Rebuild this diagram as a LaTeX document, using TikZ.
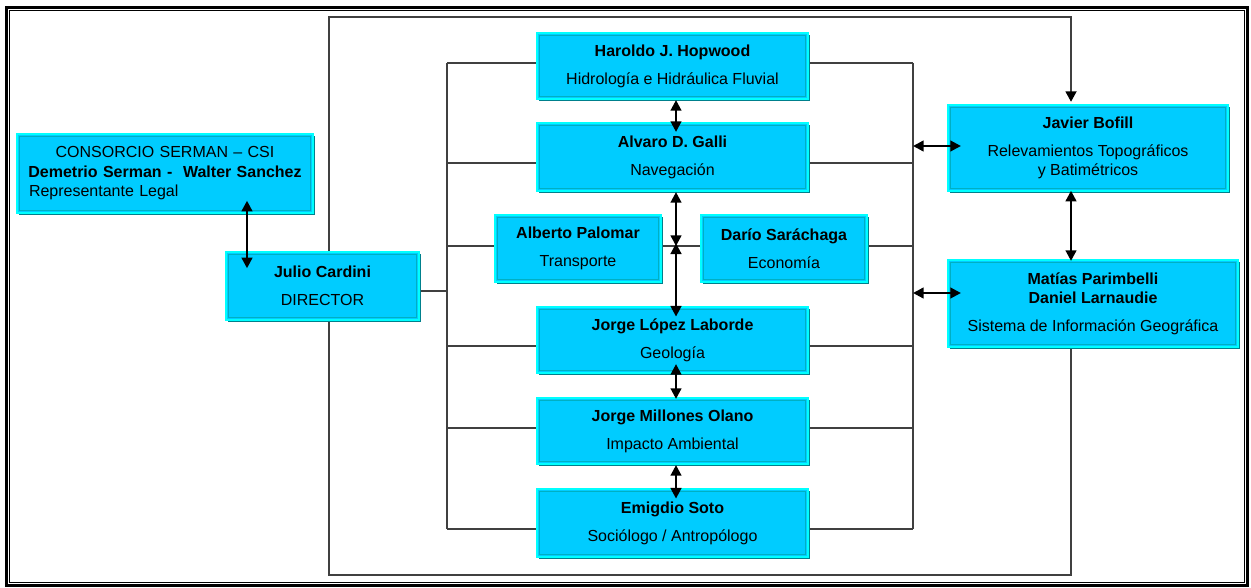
\documentclass[tikz,border=0pt]{standalone}
\usepackage{fontspec}
\setmainfont{Liberation Sans}
\usepackage{xcolor}
\usepackage{tikz}
\usetikzlibrary{arrows.meta,shadows,backgrounds}

\definecolor{boxfill}{RGB}{0,204,255}
\definecolor{boxrim}{RGB}{0,255,255}
\definecolor{boxline}{RGB}{0,175,195}
\definecolor{boxshade}{RGB}{0,128,140}

\begin{document}
\begin{tikzpicture}[x=0.75pt, y=-0.75pt,
    card/.style={rectangle, fill=boxfill, draw=boxrim, line width=1.6pt, inner sep=0pt,
        align=center, font=\fontsize{12}{14}\selectfont,
        drop shadow={shadow xshift=1.6pt, shadow yshift=-1.6pt, fill=boxshade, opacity=1},
        path picture={\draw[boxline, line width=0.7pt]
            ([shift={(1.8pt,-1.8pt)}]path picture bounding box.north west) rectangle
            ([shift={(-1.8pt,1.8pt)}]path picture bounding box.south east);}},
    wire/.style={draw=black!75, line width=2pt},
    biarrow/.style={{Triangle[length=8pt,width=8pt]}-{Triangle[length=8pt,width=8pt]}, line width=1.8pt}]
            \useasboundingbox (0,0) rectangle (1251,588);

            % page frame
            \draw[line width=2.2pt] (6.5,7.5) rectangle (1247.5,585.5);
            \draw[line width=0.75pt] (9.5,10.5) rectangle (1244.5,582.5);

            \node[card, minimum width=222pt, minimum height=59.25pt, text width=214pt, align=left, font=\fontsize{12}{14.6}\selectfont] (cons) at (165,173.5)
                {{\centering CONSORCIO SERMAN – CSI\\ \textbf{Demetrio Serman -~ Walter Sanchez}\par}\hspace*{5pt}Representante Legal};
            \node[card, minimum width=144.75pt, minimum height=51pt] (jc) at (322.5,286) {\textbf{Julio Cardini}\\[7pt] DIRECTOR};

            \node[card, minimum width=203.25pt, minimum height=49.5pt] (hop) at (672.5,66) {\textbf{Haroldo J. Hopwood}\\[7pt] Hidrología e Hidráulica Fluvial};
            \node[card, minimum width=203.25pt, minimum height=51pt] (gal) at (672.5,157) {\textbf{Alvaro D. Galli}\\[7pt] Navegación};
            \node[card, minimum width=124.5pt, minimum height=50.25pt] (pal) at (578,248.5) {\textbf{Alberto Palomar}\\[7pt] Transporte};
            \node[card, minimum width=124.5pt, minimum height=50.25pt] (sar) at (784,248.5) {\textbf{Darío Saráchaga}\\[7pt] Economía};
            \node[card, minimum width=203.25pt, minimum height=49.5pt] (lop) at (672.5,340) {\textbf{Jorge López Laborde}\\[7pt] Geología};
            \node[card, minimum width=203.25pt, minimum height=49.5pt] (mil) at (672.5,431) {\textbf{Jorge Millones Olano}\\[7pt] Impacto Ambiental};
            \node[card, minimum width=203.25pt, minimum height=51pt] (soto) at (672.5,523) {\textbf{Emigdio Soto}\\[7pt] Sociólogo / Antropólogo};

            \node[card, minimum width=210pt, minimum height=64.5pt] (bof) at (1088,148) {\textbf{Javier Bofill}\\[7pt] Relevamientos Topográficos\\ y Batimétricos};
            \node[card, minimum width=217.5pt, minimum height=65.25pt] (par) at (1093,303.5) {\textbf{Matías Parimbelli}\\ \textbf{Daniel Larnaudie}\\[7pt] Sistema de Información Geográfica};

            \coordinate (ax) at (247,0);
            \coordinate (mx) at (676,0);
            \coordinate (rx) at (1071,0);
            \coordinate (jn) at (676,246);
            \coordinate (lt) at (447,63);
            \coordinate (lb) at (447,529);
            \coordinate (rt) at (913,63);
            \coordinate (rb) at (913,529);
            \coordinate (rb1) at (913,146);
            \coordinate (rb2) at (913,293);
            \coordinate (ltop) at (329,17);
            \coordinate (lbot) at (329,575);

            \begin{scope}[on background layer]
                \draw[wire] (lt) -- (lb);
                \draw[wire] (rt) -- (rb);
                \draw[wire] (jc.east |- 0,291) -- (lt |- 0,291);
                \foreach \n/\y in {hop/63, gal/163, lop/346, mil/428, soto/529}
                    \draw[wire] (lt |- 0,\y) -- (\n.west |- 0,\y) (\n.east |- 0,\y) -- (rt |- 0,\y);
                \draw[wire] (lt |- 0,246) -- (pal.west |- 0,246);
                \draw[wire] (pal.east |- 0,246) -- (sar.west |- 0,246);
                \draw[wire] (sar.east |- 0,246) -- (rt |- 0,246);
                \draw[wire, -{Triangle[length=8pt,width=8pt,color=black]}] (par.south -| rx) -- (rx |- lbot) -- (lbot) -- (ltop) -- (rx |- ltop) -- ([yshift=1.5pt]bof.north -| rx);
            \end{scope}

            \draw[biarrow, shorten <=-10pt, shorten >=-13pt] (cons.south -| ax) -- (jc.north -| ax);
            \draw[biarrow, shorten >=-7.5pt] (hop.south -| mx) -- (gal.north -| mx);
            \draw[biarrow] (gal.south -| mx) -- (jn);
            \draw[biarrow, shorten <=-2pt, shorten >=-8pt] (jn) -- (lop.north -| mx);
            \draw[biarrow, shorten <=-7.5pt, shorten >=-1.5pt] (lop.south -| mx) -- (mil.north -| mx);
            \draw[biarrow, shorten >=-8pt] (mil.south -| mx) -- (soto.north -| mx);

            \draw[biarrow, shorten >=-10.5pt] (rb1) -- (bof.west |- rb1);
            \draw[biarrow, shorten >=-10.5pt] (rb2) -- (par.west |- rb2);
            \draw[biarrow, shorten <=-1pt, shorten >=-1.5pt] (bof.south -| rx) -- (par.north -| rx);
        \end{tikzpicture}
\end{document}
